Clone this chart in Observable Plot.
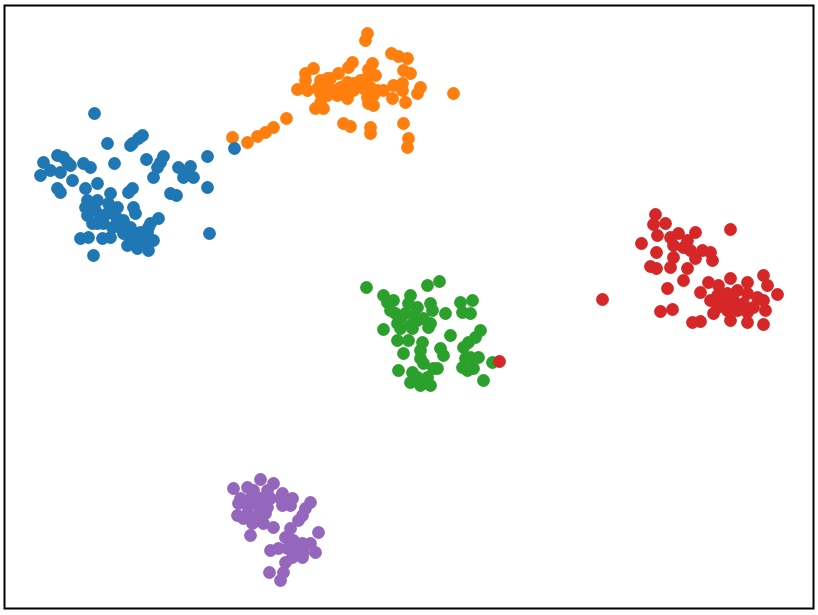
<!DOCTYPE html>
<html>
<head>
<meta charset="utf-8">
<script src="https://cdn.jsdelivr.net/npm/d3@7"></script>
<script src="https://cdn.jsdelivr.net/npm/@observablehq/plot@0.6"></script>
<style>
  html, body { margin: 0; padding: 0; background: #fff; }
  #chart svg { display: block; }
</style>
</head>
<body>
<div id="chart"></div>
<script>
// Embedding coordinates (arbitrary units) per cluster.
const clusterNames = ["0", "1", "2", "3", "4"];
const clusterColors = ["#1f77b4", "#ff7f0e", "#2ca02c", "#d62728", "#9467bd"];

const cluster0 = [
  [94,113],[142,135],[138,138],[130,145],[132,143],[107,143],[114,163],[146,159],
  [163,156],[160,162],[157,167],[153,177],[207,156],[178,167],[190,166],[185,172],
  [193,177],[183,177],[207,187],[170,193],[176,195],[209,233],
  [43,162],[40,175],[57,155],[63,157],[67,162],[50,170],[60,172],[70,165],[72,180],
  [83,163],[90,167],[57,188],[60,192],
  [85,188],[97,183],[87,200],[85,207],[87,215],[97,200],[95,210],[110,193],[108,203],
  [117,207],[107,213],[97,223],[92,223],[103,223],[117,220],[123,220],[112,227],
  [122,230],[130,227],[133,207],[135,213],[132,188],[128,192],[148,227],[150,223],
  [158,218],[147,232],[133,237],[130,240],[138,240],[137,248],[148,250],[153,240],
  [102,238],[110,237],[80,238],[88,237],[93,255],[123,233],[90,210],[100,215],
  [115,215],[140,232],[127,245],[143,243],[234,148]
];
const cluster1 = [
  [367,33],[365,40],[391,53],[398,56],[407,58],[352,62],[348,67],[372,63],[368,69],
  [313,68],[305,73],[305,80],[403,70],[410,73],[338,73],[330,78],[320,80],[327,78],
  [375,75],[367,77],[347,82],[353,83],[360,80],
  [297,89],[307,90],[317,88],[323,85],[333,90],[340,87],[345,90],[353,90],[363,88],
  [370,87],[377,90],[383,90],[393,85],[402,83],[402,90],
  [320,93],[327,95],[337,95],[347,98],[367,97],[373,95],[392,98],[405,102],[420,87],
  [417,93],[453,93],[320,102],[315,108],[323,108],[368,103],[373,105],
  [343,123],[350,126],[370,127],[370,133],[403,123],[408,138],[407,147],
  [286,118],[273,127],[265,132],[257,136],[247,142],[232,137]
];
const cluster2 = [
  [366,287],[427,285],[439,281],[383,295],[387,302],[393,300],[410,295],[408,303],
  [417,307],[430,303],[432,310],[445,313],[460,302],[472,300],[462,312],[470,313],
  [395,313],[400,318],[405,313],[413,315],[423,318],[430,323],[397,323],[410,325],
  [417,320],[390,310],[383,329],[400,328],[412,328],[428,327],[450,335],
  [480,330],[475,337],[468,342],[463,347],[397,340],[408,340],[422,342],[420,350],
  [403,353],[440,348],[443,355],[420,358],[423,363],[433,368],[465,358],[470,357],
  [478,357],[462,367],[467,370],[473,368],[398,370],[412,372],[417,377],[427,377],
  [410,382],[420,385],[430,385],[437,368],[483,380],[492,362]
];
const cluster3 = [
  [499,361],[602,299],[655,214],[653,224],[665,223],[641,243],[657,235],[670,237],
  [678,233],[687,240],[695,232],[673,245],[683,247],[690,250],[702,250],[710,252],
  [695,258],[712,260],[730,229],[656,252],[673,257],[670,267],[650,266],[656,268],
  [687,268],[683,280],[667,288],[660,311],[672,309],[692,322],[700,321],
  [708,282],[700,292],[718,285],[730,278],[747,282],[763,275],[767,285],[777,294],
  [763,300],[757,297],[747,293],[737,290],[727,293],[717,295],[710,300],[723,303],
  [733,300],[743,303],[753,307],[765,310],[713,313],[727,310],[737,310],[747,312],
  [730,320],[747,322],[763,324],[717,307]
];
const cluster4 = [
  [260,479],[273,483],[233,488],[247,487],[253,490],[267,490],[282,493],[280,498],
  [240,498],[250,498],[260,498],[270,498],[292,498],[238,503],[247,505],[257,505],
  [267,507],[282,505],[290,505],[310,502],[305,508],[302,515],[237,515],[247,513],
  [257,515],[265,513],[243,518],[252,523],[263,523],[250,535],[273,527],[298,520],
  [318,532],[290,528],[285,537],[293,540],[302,543],[310,543],[315,552],[270,550],
  [278,548],[287,548],[295,550],[303,552],[292,557],[302,557],[285,562],[283,572],
  [280,580],[269,572]
];

const groups = [cluster1, cluster2, cluster4, cluster0, cluster3];
const groupIds = [1, 2, 4, 0, 3];
const points = [];
groups.forEach((g, i) => {
  g.forEach(([x, y]) => points.push({x, y, c: clusterNames[groupIds[i]]}));
});
// the stray blue point (orange region) and red point (green region) are drawn on top
const stray = points.filter(p => (p.c === "0" && p.x === 234) || (p.c === "3" && p.x === 499));
const main = points.filter(p => !stray.includes(p));

const chart = Plot.plot({
  width: 818,
  height: 615,
  marginLeft: 4,
  marginRight: 5,
  marginTop: 5,
  marginBottom: 7,
  x: {domain: [4, 813], axis: null},
  y: {domain: [5, 608], reverse: true, axis: null},
  color: {domain: clusterNames, range: clusterColors},
  marks: [
    Plot.dot(main, {x: "x", y: "y", fill: "c", r: 6.4, stroke: null}),
    Plot.dot(stray, {x: "x", y: "y", fill: "c", r: 6.4, stroke: null}),
    Plot.frame({stroke: "#000", strokeWidth: 2})
  ]
});
document.getElementById("chart").appendChild(chart);
</script>
</body>
</html>
